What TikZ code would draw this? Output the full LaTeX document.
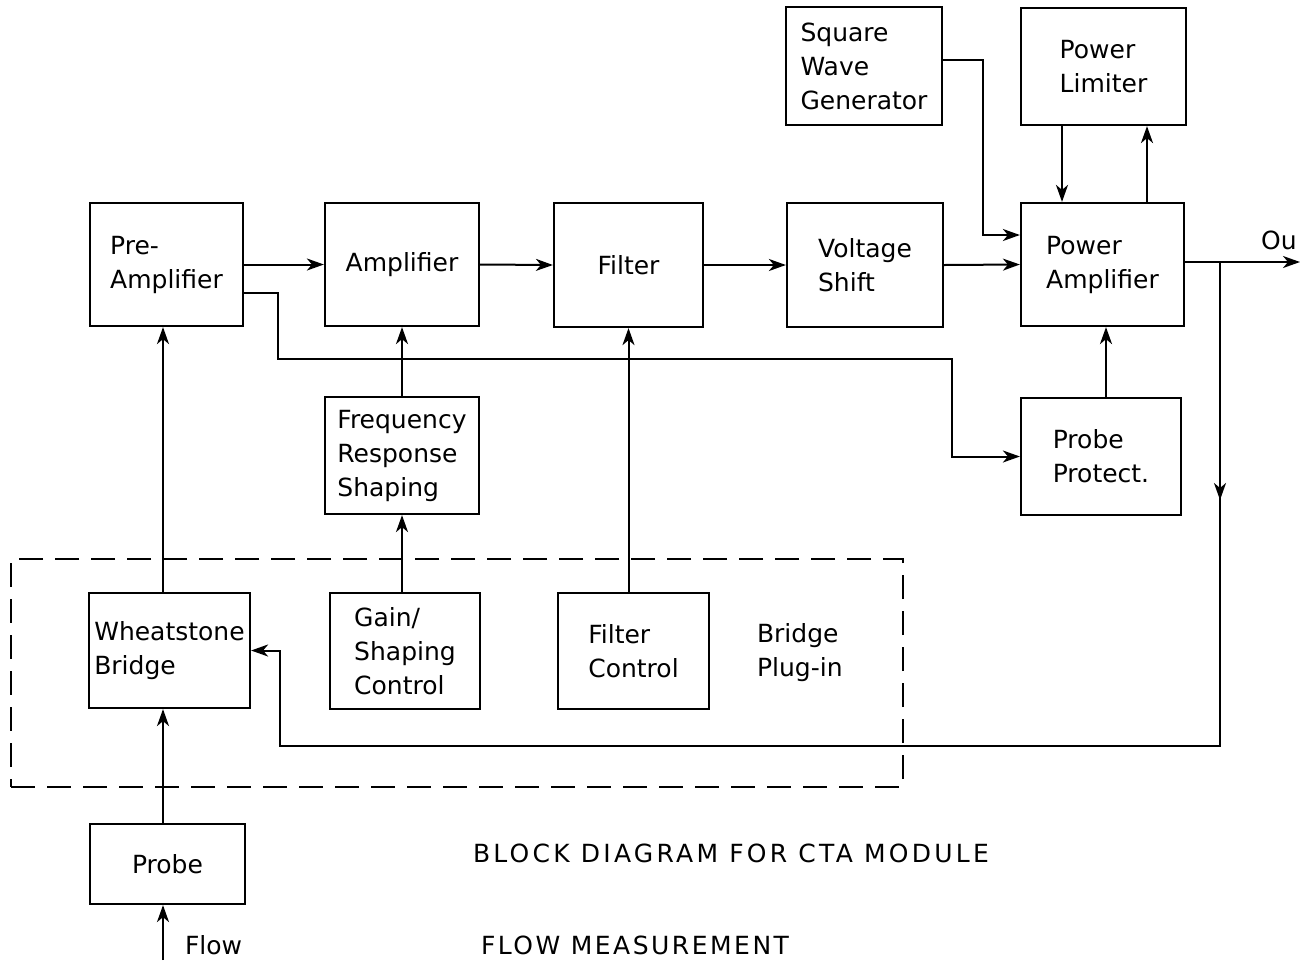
\documentclass[tikz,border=0pt]{standalone}
\usepackage{fontspec}
\setmainfont{DejaVu Sans}
\usetikzlibrary{arrows.meta,calc}
\begin{document}
\begin{tikzpicture}[x=0.5pt,y=-0.5pt,
 txt/.style={font=\fontsize{12.5}{17}\selectfont},
 blk/.style={draw, line width=1.1pt, rectangle, inner sep=2pt, align=left, txt},
 arr/.style={line width=1pt, -{Stealth[length=8.5pt,width=6pt,inset=2.5pt]}},
 wire/.style={line width=1pt},
 plugbox/.style={draw, line width=1pt, dash pattern=on 12pt off 6pt, inner sep=0pt},
 ttl/.style={txt, anchor=west},
]
\useasboundingbox (0,0) rectangle (1302,965);

% blocks
\node[blk, minimum width=76.5pt, minimum height=61.5pt] (pre) at (166.5,264.5) {Pre-\\Amplifier};
\node[blk, minimum width=77pt, minimum height=61.5pt] (amp) at (402,264.5) {Amplifier};
\node[blk, minimum width=74.5pt, minimum height=62pt] (filt) at (628.5,265) {Filter};
\node[blk, minimum width=78pt, minimum height=62pt] (vs) at (865,265) {Voltage\\Shift};
\node[blk, minimum width=81.5pt, minimum height=61.5pt] (pa) at (1102.5,264.5) {Power\\Amplifier};
\node[blk, minimum width=78pt, minimum height=59pt] (swg) at (864,66) {Square\\Wave\\Generator};
\node[blk, minimum width=82.5pt, minimum height=58.5pt] (pl) at (1103.5,66.5) {Power\\Limiter};
\node[blk, minimum width=77pt, minimum height=58.5pt] (frs) at (402,455.5) {Frequency\\Response\\Shaping};
\node[blk, minimum width=80pt, minimum height=58.5pt] (pp) at (1101,456.5) {Probe\\Protect.};
\node[blk, minimum width=80.5pt, minimum height=57.5pt] (wb) at (169.5,650.5) {Wheatstone\\Bridge};
\node[blk, minimum width=75pt, minimum height=58pt] (gsc) at (405,651) {Gain/\\Shaping\\Control};
\node[blk, minimum width=75.5pt, minimum height=58pt] (fc) at (633.5,651) {Filter\\Control};
\node[blk, minimum width=77.5pt, minimum height=40pt] (probe) at (167.5,864) {Probe};

% dashed plug-in outline
\node[plugbox, minimum width=446pt, minimum height=114pt] (plug) at (457,673) {};

% labels
\node[txt, align=left, anchor=west] (bpl) at (750,653) {Bridge\\Plug-in};
\node[txt, anchor=west] (outl) at (1254,240) {Ou};
\node[txt, anchor=west] (flowl) at (178,945) {Flow};
\node[ttl] (t1) at (466,853) {\addfontfeatures{LetterSpace=13}BLOCK DIAGRAM FOR CTA MODULE};
\node[ttl] (t2) at (474,945) {\addfontfeatures{LetterSpace=10}FLOW MEASUREMENT};

% coordinates for free ends
\coordinate (outend) at (1300,262);
\coordinate (br) at (1220,262);
\coordinate (brarr) at (1220,500);
\coordinate (fbR) at (1220,746);
\coordinate (fbL) at (280,746);
\coordinate (ppx) at (278,359);
\coordinate (ppy) at (952,359);
\coordinate (flowin) at (163,960);

% main chain
\draw[arr] (pre.east) -- (amp.west);
\draw[arr] (amp.east) -- (filt.west);
\draw[arr] (filt.east) -- (vs.west);
\draw[arr] (vs.east) -- (pa.west);
\draw[arr] ([yshift=3pt]swg.east) -- ++(20pt,0) |- ([yshift=14.75pt]pa.west);
\draw[arr] ([xshift=-20.75pt]pl.south) -- ([xshift=-20.25pt]pa.north);
\draw[arr] ([xshift=22.25pt]pa.north) -- ([xshift=21.75pt]pl.south);
\draw[arr] ([xshift=2.5pt]pp.north) -- ([xshift=1.75pt]pa.south);
\draw[arr] ([yshift=1.25pt]pa.east) -- (outend);

% feedback
\draw[arr] (br) -- (brarr);
\draw[arr] (br) -- (fbR) -- (fbL) |- (wb.east);

% pre-amp to probe protect
\draw[arr] ([yshift=-14.25pt]pre.east) -| (ppx) -- (ppy) |- (pp.west);

% vertical feeds
\draw[arr] (frs.north) -- (amp.south);
\draw[arr] (gsc.north -| frs.south) -- (frs.south);
\draw[arr] (fc.north -| filt.south) -- (filt.south);
\draw[arr] ([xshift=-3.25pt]wb.north) -- ([xshift=-1.75pt]pre.south);
\draw[arr] ([xshift=-2.25pt]probe.north) -- ([xshift=-3.25pt]wb.south);
\draw[arr] (flowin) -- ([xshift=-2.25pt]probe.south);
\end{tikzpicture}
\end{document}
